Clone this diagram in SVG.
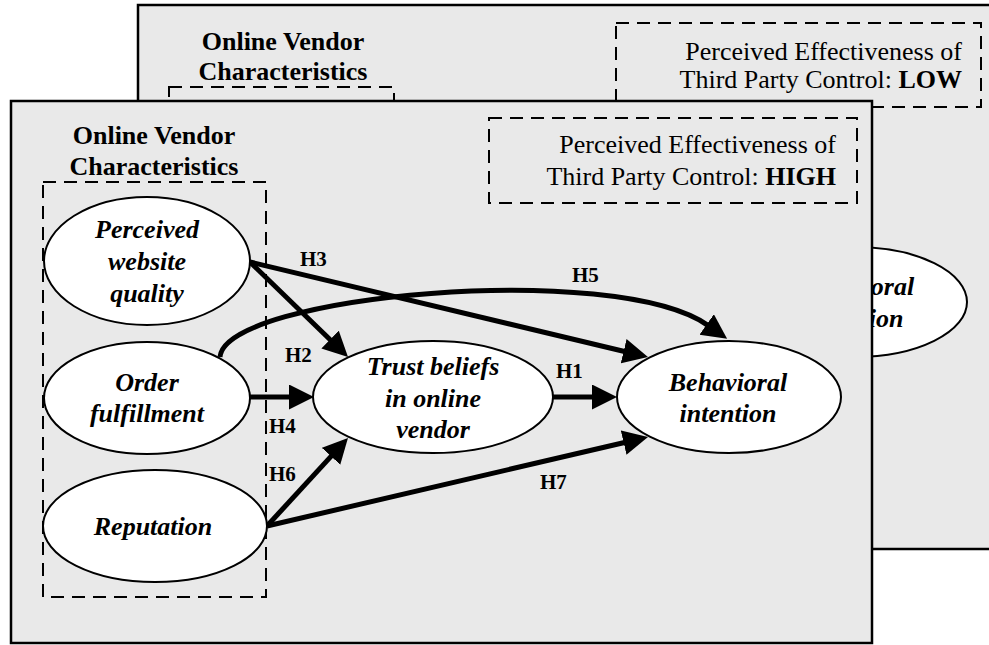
<svg xmlns="http://www.w3.org/2000/svg" width="989" height="645" viewBox="0 0 989 645">
<style>
.panel{fill:#e9e9e9;stroke:#000;stroke-width:2.5}
.dash{fill:none;stroke:#000;stroke-width:2;stroke-dasharray:13 8}
.node{fill:#fff;stroke:#000;stroke-width:2}
.t{font-family:"Liberation Serif","Times New Roman",serif;font-size:26px;fill:#000}
.b{font-weight:bold}
.bi{font-weight:bold;font-style:italic;text-anchor:middle}
.hd{font-weight:bold;text-anchor:middle}
.lab{font-family:"Liberation Serif","Times New Roman",serif;font-size:21px;font-weight:bold;fill:#000}
.arr{fill:none;stroke:#000;stroke-width:5}
</style>
<defs>
<marker id="ah" markerUnits="userSpaceOnUse" markerWidth="26" markerHeight="26" refX="2" refY="12.5" orient="auto">
<path d="M0,0 L25,12.5 L0,25 z" fill="#000"/>
</marker>
</defs>
<g id="back-panel">
<rect class="panel" x="138" y="5" width="860" height="544"/>
<text class="t hd" x="283" y="50">Online Vendor</text>
<text class="t hd" x="283" y="80">Characteristics</text>
<rect class="dash" x="169" y="87" width="225" height="200"/>
<rect class="dash" x="616" y="23" width="365" height="84"/>
<text class="t" x="962" y="60" text-anchor="end">Perceived Effectiveness of</text>
<text class="t" x="962" y="88" text-anchor="end">Third Party Control: <tspan class="b">LOW</tspan></text>
<ellipse class="node" cx="855" cy="302" rx="112" ry="55"/>
<text class="t bi" x="855" y="295">Behavioral</text>
<text class="t bi" x="855" y="327">intention</text>
</g>
<g id="front-panel">
<rect class="panel" x="11" y="101" width="861" height="542"/>
<text class="t hd" x="154" y="144">Online Vendor</text>
<text class="t hd" x="154" y="175">Characteristics</text>
<rect class="dash" x="43" y="182" width="223" height="415"/>
<rect class="dash" x="489" y="118" width="368" height="85"/>
<text class="t" x="836" y="153" text-anchor="end">Perceived Effectiveness of</text>
<text class="t" x="836" y="185" text-anchor="end">Third Party Control: <tspan class="b">HIGH</tspan></text>
</g>
<g id="connectors">
<path class="arr" d="M250,262 L625.6,351.7" marker-end="url(#ah)"/>
<path class="arr" d="M250,262 L331.5,341" marker-end="url(#ah)"/>
<path class="arr" d="M220,357 C225,295 615,260 708.3,325.6" marker-end="url(#ah)"/>
<path class="arr" d="M250,397 L291,397" marker-end="url(#ah)"/>
<path class="arr" d="M553,397 L594,397" marker-end="url(#ah)"/>
<path class="arr" d="M267,526 L332.4,454.9" marker-end="url(#ah)"/>
<path class="arr" d="M267,526 L625.6,442.2" marker-end="url(#ah)"/>
<text class="lab" x="300" y="266">H3</text>
<text class="lab" x="572" y="282">H5</text>
<text class="lab" x="285" y="362">H2</text>
<text class="lab" x="556" y="378">H1</text>
<text class="lab" x="269" y="433">H4</text>
<text class="lab" x="269" y="481">H6</text>
<text class="lab" x="540" y="489">H7</text>
</g>
<g id="perceived-website-quality">
<ellipse class="node" cx="147" cy="261" rx="103" ry="64"/>
<text class="t bi" x="147" y="238">Perceived</text>
<text class="t bi" x="147" y="270">website</text>
<text class="t bi" x="147" y="302">quality</text>
</g>
<g id="order-fulfillment">
<ellipse class="node" cx="147" cy="398" rx="103" ry="56"/>
<text class="t bi" x="147" y="391">Order</text>
<text class="t bi" x="147" y="422">fulfillment</text>
</g>
<g id="reputation">
<ellipse class="node" cx="155" cy="526" rx="112" ry="56"/>
<text class="t bi" x="153" y="535">Reputation</text>
</g>
<g id="trust-beliefs">
<ellipse class="node" cx="433" cy="397" rx="120" ry="56"/>
<text class="t bi" x="433" y="375">Trust beliefs</text>
<text class="t bi" x="433" y="407">in online</text>
<text class="t bi" x="433" y="438">vendor</text>
</g>
<g id="behavioral-intention">
<ellipse class="node" cx="729" cy="397" rx="112" ry="56"/>
<text class="t bi" x="728" y="391">Behavioral</text>
<text class="t bi" x="728" y="422">intention</text>
</g>
</svg>
